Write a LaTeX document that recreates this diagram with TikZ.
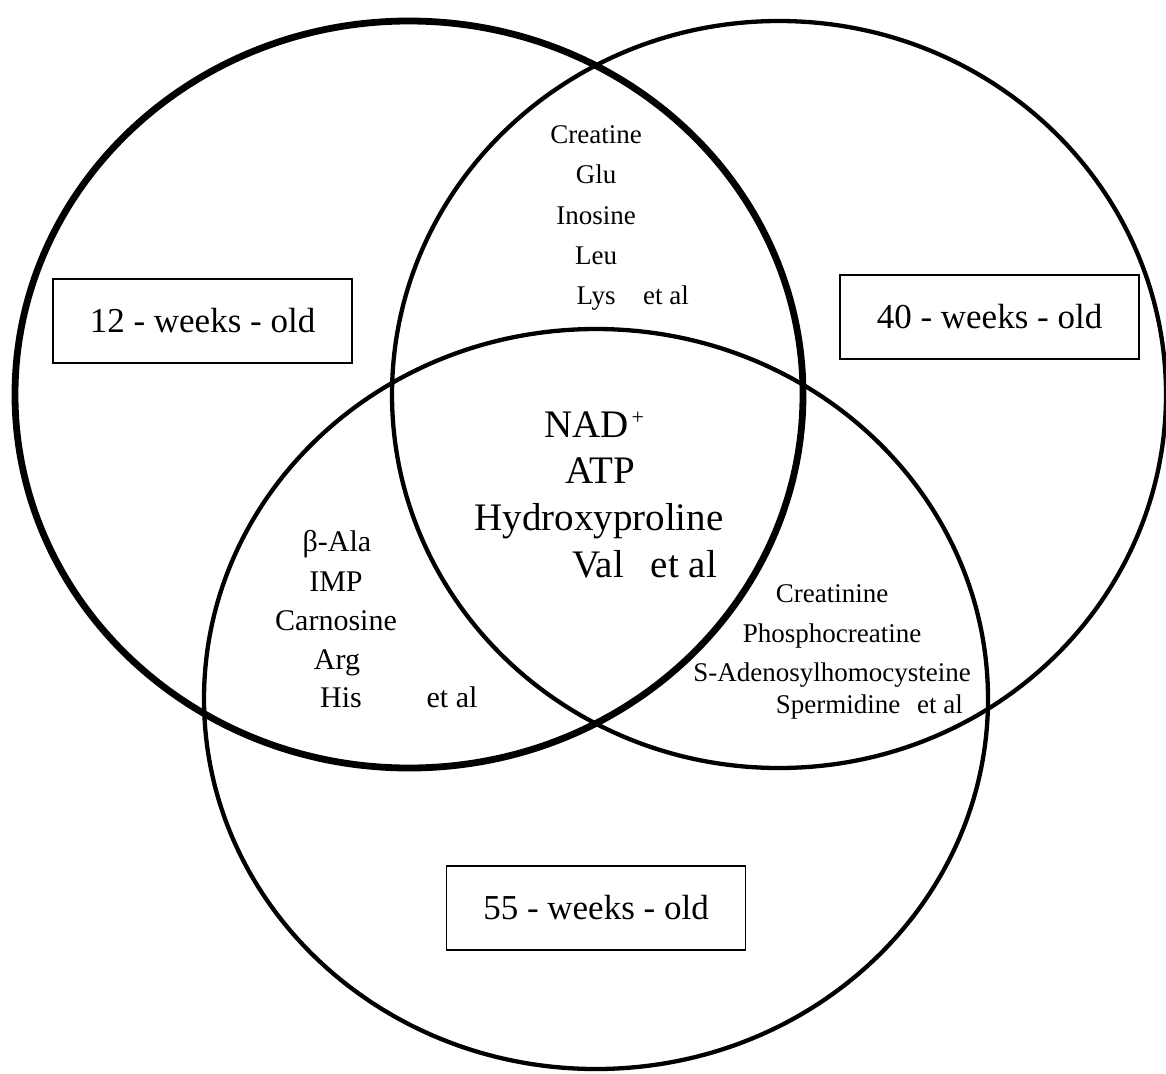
\documentclass[tikz,border=0pt]{standalone}
\usepackage{fontspec}
\setmainfont{Liberation Serif}
\usetikzlibrary{shapes.geometric}
\begin{document}
\begin{tikzpicture}[x=1pt,y=-1pt,
  setring/.style={draw, ellipse, inner sep=0pt, outer sep=0pt},
  agebox/.style={draw, line width=1.6pt, inner sep=0pt, minimum width=299pt, minimum height=84pt, font=\fontsize{35}{40}\selectfont},
  sm/.style={anchor=base, inner sep=0pt, font=\fontsize{27}{30}\selectfont},
  md/.style={anchor=base, inner sep=0pt, font=\fontsize{30}{33}\selectfont},
  lg/.style={anchor=base, inner sep=0pt, font=\fontsize{39}{44}\selectfont}]
\useasboundingbox (0,0) rectangle (1166,1073);
% sets
\node[setring, line width=4.3pt, minimum width=784pt, minimum height=740pt] (w55) at (596,699) {};
\node[setring, line width=4.3pt, minimum width=774pt, minimum height=747pt] (w40) at (779,394.5) {};
\node[setring, line width=6.8pt, minimum width=788pt, minimum height=747pt] (w12) at (409,394.5) {};
% age boxes
\node[agebox] (b12) at (202.5,321) {12 - weeks - old};
\node[agebox] (b40) at (989.5,317) {40 - weeks - old};
\node[agebox] (b55) at (596,908) {55 - weeks - old};
% 12 and 40
\node[sm] (t1) at (596,143) {Creatine};
\node[sm] (t2) at (596,183) {Glu};
\node[sm] (t3) at (596,224) {Inosine};
\node[sm] (t4) at (596,264) {Leu};
\node[sm] (t5) at (596,304) {Lys};
\node[sm] (t6) at (666,304) {et al};
% all three
\node[lg, anchor=base west] (c1) at (544,437) {NAD\hspace{3pt}\raisebox{13pt}{\fontsize{22}{22}\selectfont +}};
\node[lg] (c2) at (600,483) {ATP};
\node[lg] (c3) at (599,530) {Hydroxyproline};
\node[lg] (c4) at (598,577) {Val};
\node[lg] (c5) at (684,577) {et al};
% 12 and 55
\node[md] (l1) at (337,551) {β-Ala};
\node[md] (l2) at (336,591) {IMP};
\node[md] (l3) at (336,630) {Carnosine};
\node[md] (l4) at (337,669) {Arg};
\node[md] (l5) at (341,707) {His};
\node[md] (l6) at (452,707) {et al};
% 40 and 55
\node[sm] (r1) at (832,602) {Creatinine};
\node[sm] (r2) at (832,642) {Phosphocreatine};
\node[sm] (r3) at (832,681) {S-Adenosylhomocysteine};
\node[sm] (r4) at (838,713) {Spermidine};
\node[sm] (r5) at (940,713) {et al};
\end{tikzpicture}
\end{document}
